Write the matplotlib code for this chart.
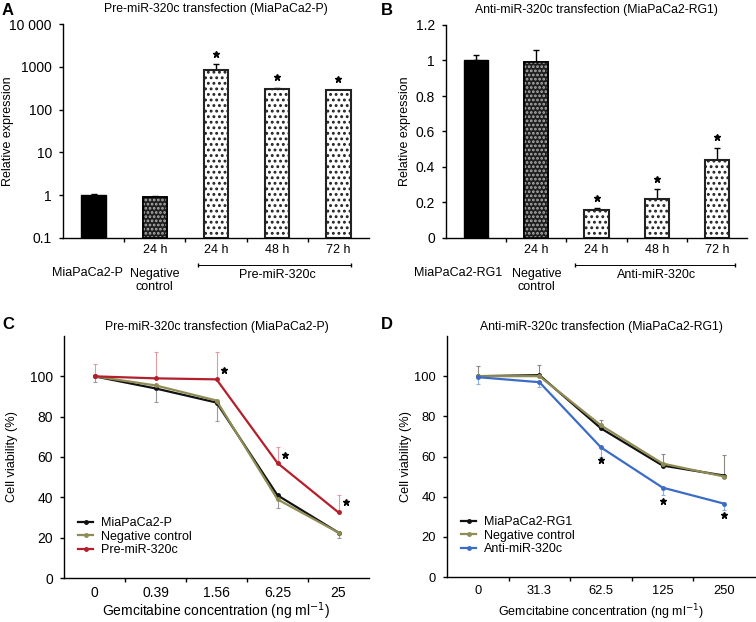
import numpy as np
import matplotlib
matplotlib.use("Agg")
import matplotlib.pyplot as plt

plt.rcParams['font.family'] = ['Liberation Sans', 'DejaVu Sans']
plt.rcParams['hatch.linewidth'] = 1.3
plt.rcParams['axes.linewidth'] = 1.0

# ---- panel A data (log scale)
a_vals = [1.0, 0.92, 830, 300, 280]
a_err = [0.05, 0.02, 340, 20, 10]
a_star = [None, None, 2000, 575, 520]
a_cats = ['MiaPaCa2-P', 'Negative\ncontrol', '', '', '']
a_time = ['', '24 h', '24 h', '48 h', '72 h']
a_group = 'Pre-miR-320c'
a_title = 'Pre-miR-320c transfection (MiaPaCa2-P)'

# ---- panel B data
b_vals = [1.0, 0.99, 0.16, 0.22, 0.44]
b_err = [0.03, 0.07, 0.01, 0.055, 0.065]
b_star = [None, None, 0.225, 0.33, 0.57]
b_cats = ['MiaPaCa2-RG1', 'Negative\ncontrol', '', '', '']
b_time = ['', '24 h', '24 h', '48 h', '72 h']
b_group = 'Anti-miR-320c'
b_title = 'Anti-miR-320c transfection (MiaPaCa2-RG1)'

# ---- panel C data
c_conc = ['0', '0.39', '1.56', '6.25', '25']
c_parent = [100, 94, 87, 41, 22.5]
c_neg = [100, 95.5, 88, 39, 22.5]
c_pre = [100, 99, 98.5, 57, 32.5]
c_pre_err_up = [6, 13, 13.5, 8, 8.5]
c_ctrl_err_dn = [3, 6.5, 9, 6.5, 2.5]
c_star = [None, None, 103, 61, 37.6]
c_title = 'Pre-miR-320c transfection (MiaPaCa2-P)'

# ---- panel D data
d_conc = ['0', '31.3', '62.5', '125', '250']
d_parent = [100, 100.5, 74, 55.5, 50.5]
d_neg = [100, 100, 75.5, 56.5, 50]
d_anti = [99.5, 97, 64.5, 44.5, 36.5]
d_ctrl_err_up = [5, 5.5, 2.5, 4.5, 10.5]
d_anti_err_dn = [3.5, 2.5, 4.5, 3.5, 3]
d_star = [None, None, 58.4, 38, 30.7]
d_title = 'Anti-miR-320c transfection (MiaPaCa2-RG1)'

W, H = 756, 622
fig = plt.figure(figsize=(W / 100, H / 100), dpi=100)


def px_axes(l, r, t, b):
    return fig.add_axes([l / W, (H - b) / H, (r - l) / W, (b - t) / H])


fs = 9
black = '#111111'
olive = '#8f8c55'
red = '#b3202c'
blue = '#3d6cc6'


def style(ax, tfs):
    ax.spines['top'].set_visible(False)
    ax.spines['right'].set_visible(False)
    ax.tick_params(direction='out', length=3, width=1, labelsize=tfs, pad=5)
    ax.set_xlim(-0.5, 4.5)


def stars(ax, xs, ys):
    for xx, s in zip(xs, ys):
        if s is not None:
            ax.plot(xx, s, marker='*', ms=4.5, color='black', ls='none', zorder=5)


def bar_panel(ax, vals, err, star, cats, cat_dx, times, group, title, log, gx):
    x = np.arange(len(vals))
    bottom = 0.1 if log else 0
    h = [v - bottom for v in vals]
    w = 0.4
    ax.bar(x[0], h[0], w, bottom=bottom, color='black', edgecolor='black', zorder=2)
    ax.bar(x[1], h[1], w, bottom=bottom, color='#1e1e1e', edgecolor='black', lw=1.2, zorder=2)
    ax.bar(x[1], h[1], w, bottom=bottom, color='none', edgecolor='#b0b0b0', hatch='....', lw=0, zorder=3)
    ax.bar(x[1], h[1], w, bottom=bottom, color='none', edgecolor='black', lw=1.2, zorder=4)
    ax.bar(x[2:], h[2:], w, bottom=bottom, color='white', edgecolor='#222222', hatch='...', lw=1.5, zorder=2)
    ax.errorbar(x, vals, yerr=[np.zeros(len(err)), err], fmt='none', ecolor='black',
                elinewidth=1, capsize=2, capthick=1, zorder=1)
    stars(ax, x, star)
    style(ax, fs + 1)
    ax.set_xticks([0.5, 1.5, 2.5, 3.5])
    ax.set_xticklabels([])
    tr = ax.get_xaxis_transform()
    for i in range(len(vals)):
        if times[i]:
            ax.text(x[i], -0.056, times[i], transform=tr, ha='center', va='center', fontsize=fs)
    ax.text(x[0] + cat_dx, -0.165, cats[0], transform=tr, ha='center', va='center', fontsize=fs)
    ax.text(x[1], -0.2, cats[1], transform=tr, ha='center', va='center', fontsize=fs,
            linespacing=1.1)
    ax.plot(gx, [-0.128, -0.128], transform=tr, color='black', lw=0.7, marker='|', ms=3,
            clip_on=False)
    ax.text(3, -0.175, group, transform=tr, ha='center', va='center', fontsize=fs)
    ax.text(0.5, 1.07, title, transform=ax.transAxes, ha='center', va='center', fontsize=fs - 0.2)
    ax.set_ylabel('Relative expression', fontsize=fs)


axA = px_axes(63, 369, 24, 238)
axA.set_yscale('log')
bar_panel(axA, a_vals, a_err, a_star, a_cats, -0.1, a_time, a_group, a_title, True, [1.7, 4.2])
axA.set_ylim(0.1, 10000)
axA.set_yticks([0.1, 1, 10, 100, 1000, 10000])
axA.set_yticklabels(['0.1', '1', '10', '100', '1000', '10 000'])
axA.minorticks_off()
axA.set_xticks([0.5, 1.5, 2.5, 3.5])
axA.yaxis.set_label_coords(-0.16, 0.5)

axB = px_axes(446, 747, 25, 238)
bar_panel(axB, b_vals, b_err, b_star, b_cats, -0.3, b_time, b_group, b_title, False, [1.65, 4.3])
axB.set_ylim(0, 1.2)
axB.set_yticks([0, 0.2, 0.4, 0.6, 0.8, 1.0, 1.2])
axB.set_yticklabels(['0', '0.2', '0.4', '0.6', '0.8', '1', '1.2'])
axB.yaxis.set_label_coords(-0.115, 0.5)


def line_panel(ax, conc, series, errs, star, star_dx, title, tfs, xfs, lfs, xly):
    x = np.arange(len(conc))
    for vals, col, lab in series:
        ax.plot(x, vals, color=col, lw=1.6, marker='o', ms=2.5, label=lab, zorder=3)
    for vals, e, col, up in errs:
        lo = np.zeros(len(e)) if up else e
        hi = e if up else np.zeros(len(e))
        ax.errorbar(x, vals, yerr=[lo, hi], fmt='none', ecolor=col, elinewidth=0.8,
                    capsize=1.5, capthick=0.8, zorder=2)
    stars(ax, x + star_dx, star)
    style(ax, tfs)
    ax.set_ylim(0, 120)
    ax.set_yticks([0, 20, 40, 60, 80, 100])
    ax.set_xticks(x)
    ax.set_xticklabels(conc)
    ax.tick_params(axis='x', length=0, pad=6)
    ax.set_xticks([0.5, 1.5, 2.5, 3.5], minor=True)
    ax.tick_params(axis='x', which='minor', length=3, width=1, direction='out')
    ax.set_ylabel('Cell viability (%)', fontsize=fs + 0.2)
    ax.text(0.5, xly, 'Gemcitabine concentration (ng ml$^{-1}$)', transform=ax.transAxes,
            ha='center', va='center', fontsize=xfs)
    ax.text(0.5, 1.037, title, transform=ax.transAxes, ha='center', va='center', fontsize=fs - 0.2)
    ax.legend(loc='lower left', bbox_to_anchor=(0.03, 0.07), frameon=False, fontsize=lfs,
              handlelength=1.2, handletextpad=0.6, labelspacing=0.12, borderaxespad=0)


axC = px_axes(64, 369, 336, 578)
line_panel(axC, c_conc,
           [(c_parent, black, 'MiaPaCa2-P'), (c_neg, olive, 'Negative control'),
            (c_pre, red, 'Pre-miR-320c')],
           [(c_pre, c_pre_err_up, '#e59aa2', True), (c_parent, c_ctrl_err_dn, '#9a9a9a', False)],
           c_star, 0.12, c_title, 10, 10, 9, -0.138)
axC.yaxis.set_label_coords(-0.15, 0.5)

axD = px_axes(447, 755, 336, 577)
line_panel(axD, d_conc,
           [(d_parent, black, 'MiaPaCa2-RG1'), (d_neg, olive, 'Negative control'),
            (d_anti, blue, 'Anti-miR-320c')],
           [(d_neg, d_ctrl_err_up, '#8a8a80', True), (d_anti, d_anti_err_dn, '#8fb0e6', False)],
           d_star, 0.0, d_title, 9.3, 9, 9, -0.147)
axD.yaxis.set_label_coords(-0.115, 0.5)

for lx, ly, letter in [(2, 3, 'A'), (381, 3, 'B'), (2, 317, 'C'), (381, 317, 'D')]:
    fig.text(lx / W, 1 - ly / H, letter, ha='left', va='top', fontsize=12, fontweight='bold')

fig.savefig('out.png', dpi=100)
